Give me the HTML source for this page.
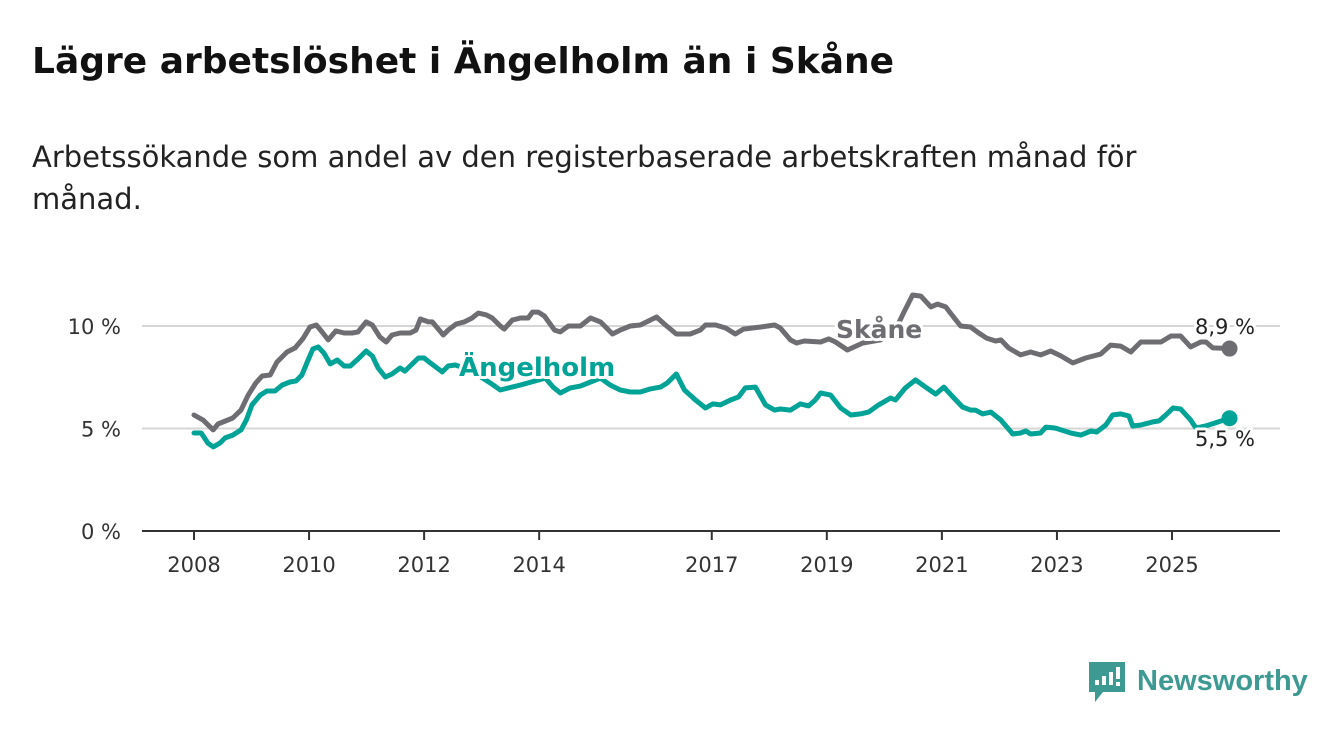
<!DOCTYPE html>
<html><head><meta charset="utf-8">
<style>
body{margin:0;width:1340px;height:734px;background:#fff;font-family:"DejaVu Sans","Liberation Sans",sans-serif;overflow:hidden;position:relative}
h1{position:absolute;left:32px;top:41px;margin:0;font-size:36px;font-weight:bold;color:#111;white-space:nowrap}
p{position:absolute;left:32px;top:136px;margin:0;font-size:29px;line-height:42px;color:#222;width:1200px}
svg{position:absolute;left:0;top:0;font-family:"DejaVu Sans","Liberation Sans",sans-serif}
</style></head><body>
<h1>Lägre arbetslöshet i Ängelholm än i Skåne</h1>
<p>Arbetssökande som andel av den registerbaserade arbetskraften månad för månad.</p>
<svg id="chart" width="1340" height="734"></svg>
<script>
const yTicks=[0,5,10];
const yTickLabels=["0 %","5 %","10 %"];
const xTicks=[2008,2010,2012,2014,2017,2019,2021,2023,2025];
const skaneMonths=[0,1.9,4,5,8.1,9.8,11.3,12.9,14.2,15.9,17.3,19.4,21.1,22.8,24.2,25.5,26.7,28,29.6,31.3,33,34.2,35.9,37.2,38.8,40.1,41.3,43,45.1,46.3,47.2,48.9,49.7,52,53,54.7,56.4,58,59.3,61,62.2,63.9,64.7,66.4,68.1,69.7,70.6,71.8,73.1,75.2,76.4,78.1,80.6,82.7,84.8,87.3,88.9,91,93.1,96.5,98.1,100.6,103.5,105.6,106.7,108.8,110.9,112.9,114.6,118.2,121.1,122.3,124.4,125.7,127.3,130.7,132.4,133.8,136.3,139.5,143.2,146.3,148,149.9,151.6,153.7,155.1,156.8,157.8,159.9,162,163.7,165.3,167.2,168.3,169.9,172.4,174.5,176.6,178.7,180.8,183.3,186,189.1,191.2,193.3,195.4,197.5,201.7,203.8,205.8,207.9,210,211.1,212.5,216];
const skaneValues=[5.66,5.41,4.93,5.22,5.51,5.9,6.63,7.22,7.56,7.61,8.24,8.73,8.93,9.41,9.95,10.05,9.71,9.32,9.76,9.66,9.66,9.71,10.2,10.05,9.46,9.22,9.56,9.66,9.66,9.8,10.34,10.2,10.2,9.56,9.8,10.1,10.2,10.39,10.63,10.54,10.39,10,9.85,10.29,10.39,10.39,10.68,10.68,10.49,9.8,9.71,10,10,10.39,10.2,9.61,9.8,10,10.05,10.44,10.1,9.61,9.61,9.8,10.05,10.05,9.9,9.61,9.85,9.95,10.05,9.9,9.32,9.17,9.27,9.22,9.37,9.22,8.83,9.17,9.32,9.8,10.63,11.51,11.46,10.93,11.07,10.93,10.63,10,9.95,9.66,9.41,9.27,9.32,8.93,8.59,8.73,8.59,8.78,8.54,8.2,8.44,8.63,9.07,9.02,8.73,9.22,9.22,9.51,9.51,8.98,9.22,9.22,8.93,8.9];
const angMonths=[0,1.5,2.9,4,5.4,6.5,8.1,9.8,10.9,12.1,13.8,15.2,16.9,18.4,20,21.3,22.5,23.8,24.8,25.9,27.1,28.4,29.9,31.3,32.6,34.2,35.9,37.2,38.4,39.9,41.3,43,44,45.1,46.8,48,49.3,50.7,51.8,53,54.5,57.6,61.8,63.9,68.1,73.3,74.9,76.4,78.5,80.6,82.7,84.8,86.8,88.9,91,93.1,95.2,97.3,98.7,100.6,102.3,104.6,106.7,108.2,109.8,111.9,113.6,115,117.1,119.2,121.1,122.3,124.4,126.5,128.2,129.6,130.7,132.8,134.9,137,139,140.7,142.8,145.3,146.3,148.4,150.5,152.6,154.7,156.4,158.5,160.3,162,163,164.5,166.2,168.3,170.8,172.4,173.5,174.5,176.6,177.7,179.7,182.9,185,187.1,188.3,190.2,191.6,193.3,195,195.8,197.5,200,201.3,202.7,204.2,205.8,207.9,209,211,216];
const angValues=[4.78,4.78,4.29,4.1,4.29,4.54,4.68,4.93,5.41,6.15,6.63,6.83,6.83,7.12,7.27,7.32,7.61,8.34,8.88,8.98,8.68,8.15,8.34,8.05,8.05,8.39,8.78,8.54,7.95,7.51,7.66,7.95,7.8,8.05,8.44,8.44,8.2,7.95,7.76,8.05,8.1,7.85,7.22,6.88,7.12,7.46,7.02,6.73,6.98,7.07,7.27,7.46,7.12,6.88,6.78,6.78,6.93,7.02,7.22,7.66,6.88,6.39,6,6.2,6.15,6.39,6.54,6.98,7.02,6.15,5.9,5.95,5.9,6.2,6.1,6.39,6.73,6.63,6,5.66,5.71,5.8,6.15,6.49,6.39,6.98,7.37,7.02,6.68,7.02,6.49,6.05,5.9,5.9,5.71,5.8,5.41,4.73,4.78,4.88,4.73,4.78,5.07,5.02,4.78,4.68,4.88,4.83,5.17,5.66,5.71,5.61,5.12,5.17,5.32,5.37,5.66,6,5.95,5.41,5.02,5.12,5.5];

const NS='http://www.w3.org/2000/svg';
const svg=document.getElementById('chart');
const X=m=>194+m*(1172-194)/(17*12);
const XY=y=>X((y-2008)*12);
const Y=v=>531-v*20.5;
function el(t,a,p){const e=document.createElementNS(NS,t);for(const k in a)e.setAttribute(k,a[k]);(p||svg).appendChild(e);return e;}
yTicks.forEach((t,i)=>{
  if(t>0){const g=el('line',{x1:142,x2:1280,y1:Y(t),y2:Y(t),stroke:'#d6d6d6','stroke-width':2});
  
  }
  const l=el('text',{x:121,y:Y(t)+8,'text-anchor':'end','font-size':21,fill:'#333'});l.textContent=yTickLabels[i];
  
  
});
const base=el('line',{x1:142,x2:1280,y1:531,y2:531,stroke:'#333','stroke-width':2});


xTicks.forEach(t=>{
  const tk=el('line',{x1:XY(t),x2:XY(t),y1:531,y2:540,stroke:'#333','stroke-width':2});
  
  
  const l=el('text',{x:XY(t),y:572,'text-anchor':'middle','font-size':21,fill:'#333'});l.textContent=t;
  
  
});
function line(ms,vs,c,name){
  const d=ms.map((m,i)=>(i?'L':'M')+X(m).toFixed(1)+','+Y(vs[i]).toFixed(1)).join('');
  const p=el('path',{d,fill:'none',stroke:c,'stroke-width':5,'stroke-linejoin':'round','stroke-linecap':'round'});
  
  
  const c2=el('circle',{cx:X(ms[ms.length-1]),cy:Y(vs[vs.length-1]),r:8,fill:c});
  
  
}
line(skaneMonths,skaneValues,'#6e6d72','skane-line');
line(angMonths,angValues,'#00a396','angelholm-line');
function label(x,y,txt,c,size,bold,name,anchor){
  const t=el('text',{x,y,'font-size':size,'font-weight':bold?'bold':'normal',fill:c,stroke:'#fff','stroke-width':6,'paint-order':'stroke','stroke-linejoin':'round','text-anchor':anchor||'start'});
  t.textContent=txt;
  
  
}
label(836,338,'Skåne','#6e6d72',25,true,'skane-series-label');
label(459,376,'Ängelholm','#00a396',26,true,'angelholm-series-label');
label(1255,334,'8,9 %','#222',21,false,'skane-end-value','end');
label(1255,446,'5,5 %','#222',21,false,'angelholm-end-value','end');
const g=el('g',{});


el('path',{d:'M1089,662h36v30h-22l-8,10v-10h-6z',fill:'#3d9a92'},g);
[[1095,680,5],[1102,676,9],[1109,672,13]].forEach(b=>el('rect',{x:b[0],y:b[1],width:4,height:b[2],fill:'#fff'},g));
el('rect',{x:1116,y:667,width:4,height:12,fill:'#fff'},g);
el('rect',{x:1116,y:682,width:4,height:4,fill:'#fff'},g);
const lt=el('text',{x:1137,y:690,'font-size':29,fill:'#3d9a92','font-family':'Liberation Sans, sans-serif','font-weight':'bold'},g);lt.textContent='Newsworthy';
</script>
</body></html>
